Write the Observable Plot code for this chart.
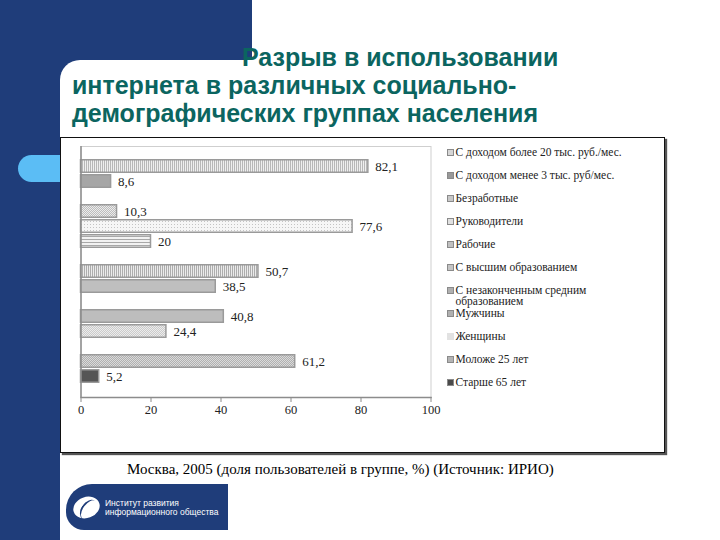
<!DOCTYPE html>
<html><head><meta charset="utf-8">
<script src="https://cdn.jsdelivr.net/npm/d3@7"></script>
<script src="https://cdn.jsdelivr.net/npm/@observablehq/plot@0.6"></script>
<style>
html,body{margin:0;padding:0;}
body{width:720px;height:540px;position:relative;overflow:hidden;background:#fff;font-family:"Liberation Sans",Arial,sans-serif;}
.abs{position:absolute;}
#blueTop{left:0;top:0;width:252px;height:80px;background:#1f3d7a;}
#blueLeft{left:0;top:0;width:60px;height:540px;background:#1f3d7a;}
#pill{left:18px;top:155px;width:60px;height:27px;border-radius:13.5px;background:#5bbdf5;}
#panel{left:60px;top:60px;width:660px;height:480px;background:#fff;border-top-left-radius:20px;}
#title{left:72px;top:43px;font:bold 25px/28px "Liberation Sans",Arial,sans-serif;color:#0b6560;white-space:nowrap;}
#title .l1{padding-left:170px;}
#box{left:60px;top:137px;width:605px;height:316px;border:1px solid #111;box-shadow:2px 2px 1px #555;background:#fff;box-sizing:border-box;}
#plot{left:60px;top:137px;}
#legend{left:447px;top:140.5px;font:11.5px/11px "Liberation Serif","Times New Roman",serif;color:#222;}
.item{position:relative;height:23px;width:210px;}
.sw{position:absolute;left:0;top:8px;width:5px;height:5px;border:1px solid #8a8a8a;}
.lt{position:absolute;left:8.5px;top:6px;width:178px;}
#caption{left:127px;top:460px;font:15px/18px "Liberation Serif","Times New Roman",serif;color:#000;white-space:nowrap;}
#logo{left:66px;top:484px;width:162px;height:46px;background:#1f3d7a;border-radius:26px 0 0 18px;overflow:hidden;}
#logo .ic{position:absolute;left:7px;top:13px;width:27px;height:21px;border-radius:50%;background:#fff;transform:rotate(-20deg);}
#logo .arc{position:absolute;left:15px;top:15px;width:14px;height:22px;border-left:2.5px solid #1f3d7a;border-radius:50%;transform:rotate(35deg);}
#logo .tx{position:absolute;left:39px;top:15px;font:8.5px/9px "Liberation Sans",Arial,sans-serif;color:#fff;white-space:nowrap;}
</style></head>
<body>
<div id="blueTop" class="abs"></div>
<div id="blueLeft" class="abs"></div>
<div id="pill" class="abs"></div>
<div id="panel" class="abs"></div>
<div id="title" class="abs"><div class="l1">Разрыв в использовании</div><div>интернета в различных социально-</div><div>демографических группах населения</div></div>
<div id="box" class="abs"></div>
<div id="plot" class="abs"></div>
<div id="legend" class="abs"></div>
<div id="caption" class="abs"></div>
<div id="logo" class="abs"><div class="ic"></div><div class="arc"></div><div class="tx">Институт развития<br>информационного общества</div></div>
<script>
// ---- data ----
const categories = [
  "С доходом более 20 тыс. руб./мес.",
  "С доходом менее 3 тыс. руб/мес.",
  "Безработные",
  "Руководители",
  "Рабочие",
  "С высшим образованием",
  "С незаконченным средним образованием",
  "Мужчины",
  "Женщины",
  "Моложе 25 лет",
  "Старше 65 лет"
];
const values = [82.1, 8.6, 10.3, 77.6, 20, 50.7, 38.5, 40.8, 24.4, 61.2, 5.2];
const groups = [1, 1, 2, 2, 2, 3, 3, 4, 4, 5, 5];
const xTicks = [0, 20, 40, 60, 80, 100];
const captionText = "Москва, 2005 (доля пользователей в группе, %) (Источник: ИРИО)";

// ---- styles ----
const barFills = ["url(#pVert1)", "#a6a6a6", "url(#pCheck1)", "url(#pDots1)", "url(#pHoriz)", "url(#pVert2)", "#bfbfbf", "#bdbdbd", "url(#pDots2)", "url(#pCheck2)", "#555555"];
const swatchFills = ["#d6d6d6", "#999999", "#c8c8c8", "#e0e0e0", "#c0c0c0", "#c4c4c4", "#b0b0b0", "#b0b0b0", "#e2e2e2", "#b4b4b4", "#4a4a4a"];

const data = categories.map((c, i) => ({category: c, value: values[i], group: groups[i], idx: i}));
const yDomain = [];
data.forEach((d, i) => {
  if (i > 0 && d.group !== data[i - 1].group) yDomain.push("gap" + d.group);
  yDomain.push(d.category);
});

const chart = Plot.plot({
  width: 380, height: 300,
  marginLeft: 20.5, marginRight: 9.5, marginTop: 9, marginBottom: 40,
  x: {domain: [0, 100], label: null},
  y: {domain: yDomain, paddingInner: 0.04, paddingOuter: 0.83, axis: null},
  color: {type: "identity"},
  style: {fontFamily: "'Liberation Serif','Times New Roman',serif", background: "transparent", overflow: "visible"},
  marks: [
    Plot.frame({stroke: "#cfcfcf", strokeWidth: 1}),
    Plot.barX(data, {x: "value", y: "category", fill: d => barFills[d.idx], stroke: "#9a9a9a", strokeWidth: 1.5, insetTop: 0.75, insetBottom: 0.75}),
    Plot.ruleX([0], {stroke: "#8c8c8c", strokeWidth: 1.5}),
    Plot.frame({anchor: "bottom", stroke: "#8c8c8c", strokeWidth: 1.5}),
    Plot.axisX({ticks: xTicks, tickSize: 5, tickPadding: 3, stroke: "#8c8c8c", fill: "#222", fontSize: 12.5, label: null, tickFormat: d => String(d)}),
    Plot.text(data, {x: "value", y: "category", text: d => String(d.value).replace(".", ","), textAnchor: "start", dx: 7, fontSize: 13, fill: "#222"})
  ]
});

const svgEl = chart.tagName.toLowerCase() === "svg" ? chart : chart.querySelector("svg");
const defs = d3.select(svgEl).insert("defs", ":first-child");
function pat(id, w, h, bg, draw) {
  const p = defs.append("pattern").attr("id", id).attr("patternUnits", "userSpaceOnUse").attr("width", w).attr("height", h);
  p.append("rect").attr("width", w).attr("height", h).attr("fill", bg);
  draw(p);
}
pat("pVert1", 2, 2, "#efefef", p => p.append("rect").attr("width", 1).attr("height", 2).attr("fill", "#b8b8b8"));
pat("pVert2", 2, 2, "#ebebeb", p => p.append("rect").attr("width", 1).attr("height", 2).attr("fill", "#adadad"));
pat("pHoriz", 3, 3, "#f2f2f2", p => p.append("rect").attr("width", 3).attr("height", 1).attr("fill", "#a8a8a8"));
pat("pCheck1", 2, 2, "#ececec", p => { p.append("rect").attr("width", 1).attr("height", 1).attr("fill", "#bdbdbd"); p.append("rect").attr("x", 1).attr("y", 1).attr("width", 1).attr("height", 1).attr("fill", "#bdbdbd"); });
pat("pDots1", 3, 3, "#f6f6f6", p => p.append("rect").attr("width", 1).attr("height", 1).attr("fill", "#c4c4c4"));
pat("pDots2", 2, 2, "#ececec", p => { p.append("rect").attr("width", 1).attr("height", 1).attr("fill", "#cbcbcb"); p.append("rect").attr("x", 1).attr("y", 1).attr("width", 1).attr("height", 1).attr("fill", "#cbcbcb"); });
pat("pCheck2", 2, 2, "#dadada", p => { p.append("rect").attr("width", 1).attr("height", 1).attr("fill", "#b0b0b0"); p.append("rect").attr("x", 1).attr("y", 1).attr("width", 1).attr("height", 1).attr("fill", "#b0b0b0"); });
document.getElementById("plot").appendChild(chart);

// legend
const leg = d3.select("#legend");
categories.forEach((c, i) => {
  const it = leg.append("div").attr("class", "item");
  it.append("div").attr("class", "sw").style("background", swatchFills[i]).style("border-color", i === 8 ? "#e2e2e2" : "#8a8a8a");
  it.append("div").attr("class", "lt").text(c);
});
document.getElementById("caption").textContent = captionText;
</script>
</body></html>
